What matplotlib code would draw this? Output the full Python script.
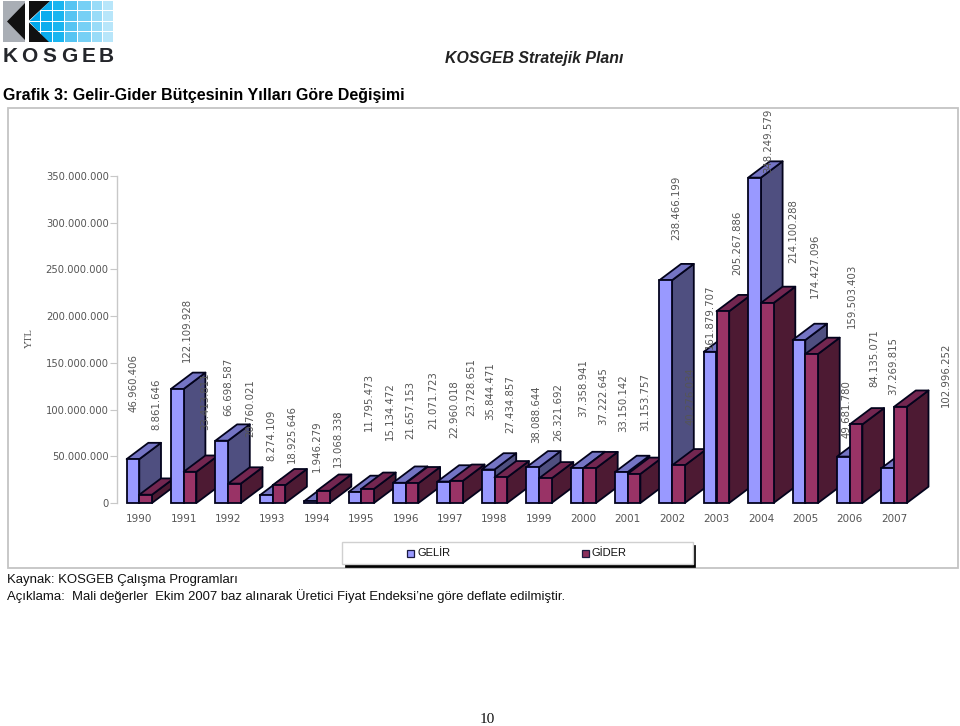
import matplotlib
matplotlib.use("Agg")
import matplotlib.pyplot as plt
from matplotlib.patches import Rectangle, Polygon

years = list(range(1990, 2008))
gelir = [46960406, 122109928, 66698587, 8274109, 1946279, 11795473, 21657153, 22960018, 35844471,
         38088644, 37358941, 33150142, 238466199, 161879707, 348249579, 174427096, 49681780, 37269815]
gider = [8861646, 33413811, 20760021, 18925646, 13068338, 15134472, 21071723, 23728651, 27434857,
         26321692, 37222645, 31153757, 40276034, 205267886, 214100288, 159503403, 84135071, 102996252]
y_ticks = list(range(0, 350000001, 50000000))
series_names = ["GELİR", "GİDER"]

# label placement, in pixels relative to the top centre of each bar
gelir_label_dx = [1, 10, 6, 5, 6, 14, 11, 10, 2, 4, 6, 2, 11, 0, 14, 16, 3, 5]
gelir_label_gap = [47, 27, 25, 34, 29, 61, 44, 44, 50, 24, 51, 40, 40, 3, 5, 42, 19, 73]
gider_label_dx = [11, 15, 16, 13, 15, 22, 21, 15, 9, 13, 14, 11, 12, 14, 26, 40, 18, 45]
gider_label_gap = [65, 42, 47, 22, 24, 49, 54, 65, 44, 37, 43, 43, 40, 36, 40, 26, 37, 0]

W, H = 960, 726
SANS = "Liberation Sans"
GELIR_C = ("#9999FF", "#7474C4", "#4F4F80")
GIDER_C = ("#993366", "#732650", "#4D1A33")
EDGE = "#03031c"
TXT = "#555555"

fig = plt.figure(figsize=(W / 100, H / 100), dpi=100, facecolor="white")

# page furniture in pixel coordinates
deco = fig.add_axes([0, 0, 1, 1], zorder=0)
deco.set_xlim(0, W)
deco.set_ylim(H, 0)
deco.axis("off")

deco.add_patch(Rectangle((8, 108), 950, 460, fc="white", ec="#c4c4c4", lw=1.3))
deco.add_patch(Rectangle((345, 545), 350, 22, fc="black", ec="black", lw=0.5))
deco.add_patch(Rectangle((342, 542), 351, 22, fc="white", ec="#d0d0d0", lw=1))
for mx, col, name in [(407, GELIR_C[0], series_names[0]), (582, "#8a2f5c", series_names[1])]:
    deco.add_patch(Rectangle((mx, 550), 7, 7, fc=col, ec="#1a1a40", lw=0.9))
    deco.text(mx + 10, 553.5, name, family=SANS, fontsize=8, va="center", ha="left", color="#111111")

# logo
deco.add_patch(Rectangle((3, 1), 22, 41, fc="#a9aeb5", ec="none"))
deco.add_patch(Polygon([(7, 21.5), (25, 3), (25, 40)], fc="#111111", ec="none"))
clip = Polygon([(50, 1), (114, 1), (114, 42), (48, 42), (29, 21.5)], transform=deco.transData)
edges = [29, 41, 53, 65, 78, 92, 103, 114]
blues = ["#00a8ec", "#0cadee", "#1ab5f0", "#55c4f2", "#77d0f5", "#99dcf8", "#b8e6fa"]
for x0, x1, c in zip(edges[:-1], edges[1:], blues):
    for y0, y1 in [(1, 10), (11, 21), (22, 31), (32, 42)]:
        r = Rectangle((x0, y0), x1 - x0 - 1, y1 - y0, fc=c, ec="none")
        deco.add_patch(r)
        r.set_clip_path(clip)
deco.add_patch(Polygon([(29, 1), (50, 1), (29, 20.5)], fc="#111111", ec="none"))
deco.add_patch(Polygon([(29, 22.5), (49, 42), (29, 42)], fc="#111111", ec="none"))
for ch, cx in zip("KOSGEB", [10, 29.5, 49, 69, 89, 106]):
    deco.text(cx, 62.5, ch, family=SANS, weight="bold", fontsize=15, ha="center", va="baseline", color="#24262b")

# headings and notes
deco.text(445, 63, "KOSGEB Stratejik Planı", family=SANS, weight="bold", style="italic", fontsize=11.4,
          ha="left", va="baseline", color="#222222")
deco.text(3, 100, "Grafik 3: Gelir-Gider Bütçesinin Yılları Göre Değişimi", family=SANS, weight="bold",
          fontsize=11.5, ha="left", va="baseline", color="black")
deco.text(7, 583, "Kaynak: KOSGEB Çalışma Programları", family=SANS, fontsize=9.45, ha="left", va="baseline",
          color="#111111")
deco.text(7, 600, "Açıklama:  Mali değerler  Ekim 2007 baz alınarak Üretici Fiyat Endeksi’ne göre deflate edilmiştir.",
          family=SANS, fontsize=9.45, ha="left", va="baseline", color="#111111")
deco.text(487, 723, "10", family="Liberation Serif", fontsize=11, ha="center", va="baseline", color="#111111")
deco.text(29, 338, "YTL", family="Liberation Serif", fontsize=7.5, rotation=90, ha="center", va="center", color=TXT)

# chart axes: x = 117..917 px, y = 503..176 px
STEP = 44.4
X0 = 139.3
L, R, B, T = 117, 917, 503, 176
ax = fig.add_axes([L / W, 1 - B / H, (R - L) / W, (B - T) / H], zorder=1)
ax.patch.set_visible(False)
ax.set_xlim((L - X0) / STEP, (R - X0) / STEP)
ax.set_ylim(0, 350000000)
PXV = (B - T) / 350000000
BW = 12.7 / STEP
DX = 21.7 / STEP
DY = 16.3 / PXV
LW = 1.3


def bar3d(x_left, value, cols, z):
    x_right = x_left + BW
    ax.fill([x_right, x_right + DX, x_right + DX, x_right],
            [0, DY, value + DY, value], fc=cols[2], ec=EDGE, lw=LW, zorder=z, clip_on=False, joinstyle="round")
    ax.fill([x_left, x_right, x_right + DX, x_left + DX],
            [value, value, value + DY, value + DY], fc=cols[1], ec=EDGE, lw=LW, zorder=z, clip_on=False,
            joinstyle="round")
    ax.bar(x_left, value, width=BW, align="edge", fc=cols[0], ec=EDGE, lw=LW, zorder=z, clip_on=False)


idx = list(range(len(years)))
z = 3
for i in idx:
    bar3d(i - BW, gelir[i], GELIR_C, z)
    bar3d(i, gider[i], GIDER_C, z + 1)
    z += 2


def fmt(v):
    return f"{v:,}".replace(",", ".")


for i in idx:
    for v, xc, dx, gap in [(gelir[i], i - BW / 2, gelir_label_dx[i], gelir_label_gap[i]),
                           (gider[i], i + BW / 2, gider_label_dx[i], gider_label_gap[i])]:
        ax.annotate(fmt(v), xy=(xc, v), xytext=(dx, gap), textcoords="offset pixels", rotation=90,
                    ha="center", va="bottom", fontsize=7.3, color=TXT, zorder=100, annotation_clip=False)

for s in ["top", "right", "bottom"]:
    ax.spines[s].set_visible(False)
ax.spines["left"].set_color("#c8c8c8")
ax.spines["left"].set_linewidth(1)
ax.set_yticks(y_ticks)
ax.set_yticklabels([fmt(v) for v in y_ticks], fontsize=7.2, color=TXT)
ax.tick_params(axis="y", length=5, width=0.8, color="#c8c8c8", pad=1)
ax.set_xticks(idx)
ax.set_xticklabels([str(y) for y in years], fontsize=7.5, color=TXT)
ax.tick_params(axis="x", length=0, pad=8)

fig.savefig("out.png", dpi=100)
